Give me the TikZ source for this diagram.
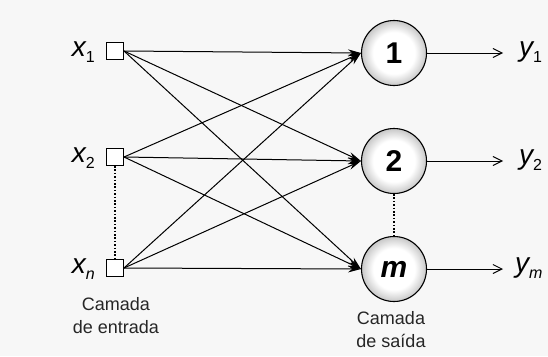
\documentclass[tikz,border=0pt]{standalone}
\usepackage{fontspec}
\setmainfont{Liberation Sans}
\usetikzlibrary{arrows.meta}
\pgfdeclareradialshading{ringshade}{\pgfpoint{0bp}{0bp}}{color(0bp)=(white); color(16bp)=(white); color(21bp)=(black!12); color(25bp)=(black!22); color(50bp)=(black!22)}
\tikzset{
  inbox/.style={draw, line width=1pt, fill=white, minimum size=17pt, inner sep=0pt},
  neuron/.style={circle, draw, line width=1.1pt, shade, shading=ringshade, minimum size=65pt, inner sep=0pt, font=\fontsize{30}{30}\selectfont\bfseries},
  conn/.style={line width=1pt, -{Stealth[length=13pt,width=7pt]}},
  outarrow/.style={line width=1pt, -{Straight Barb[length=9pt,width=9pt,line width=1pt]}},
  varlabel/.style={inner sep=0pt, font=\fontsize{28}{28}\selectfont\itshape},
  layertext/.style={align=center, inner sep=0pt, text=black!85, font=\fontsize{18}{23}\selectfont},
  dotline/.style={line width=1.6pt, dash pattern=on 1.6pt off 1.8pt}
}
\newcommand{\subup}[1]{\raisebox{-0.45ex}{\fontsize{16}{16}\selectfont\upshape #1}}
\newcommand{\subit}[1]{\raisebox{-0.45ex}{\fontsize{16}{16}\selectfont\itshape #1}}
\begin{document}
\begin{tikzpicture}[x=1pt,y=-1pt]
\fill[black!3] (0,0) rectangle (548,356);
\useasboundingbox (0,0) rectangle (548,356);
% inputs
\node[inbox] (s1) at (115,51) {};
\node[inbox] (s2) at (115,157) {};
\node[inbox] (sn) at (115,268) {};
\node[varlabel, anchor=east] (x1) at (95,52) {x\subup{1}};
\node[varlabel, anchor=east] (x2) at (95,158) {x\subup{2}};
\node[varlabel, anchor=east] (xn) at (95,269) {x\subit{n}};
% neurons
\node[neuron] (c1) at (394,53) {1};
\node[neuron] (c2) at (394,161) {2};
\node[neuron] (cm) at (394,269) {\itshape m};
% dotted
\draw[dotline] (s2.south) -- (sn.north);
\draw[dotline] (c2.south) -- (cm.north);
% connections
\foreach \s in {s1,s2,sn}{
  \foreach \c in {c1,c2,cm}{
    \draw[conn] (\s.east) -- (\c.west);
  }
}
% outputs
\node[varlabel, anchor=west] (y1) at (519,52) {y\subup{1}};
\node[varlabel, anchor=west] (y2) at (519,160) {y\subup{2}};
\node[varlabel, anchor=west] (ym) at (515,268) {y\subit{m}};
\coordinate (o1) at (503,53);
\coordinate (o2) at (503,161);
\coordinate (om) at (503,269);
\draw[outarrow] (c1.east) -- (o1);
\draw[outarrow] (c2.east) -- (o2);
\draw[outarrow] (cm.east) -- (om);
% layer labels
\node[layertext, anchor=north] (le) at (116,297) {Camada\\de entrada};
\node[layertext, anchor=north] (ls) at (391,311) {Camada\\de saída};
\end{tikzpicture}
\end{document}
